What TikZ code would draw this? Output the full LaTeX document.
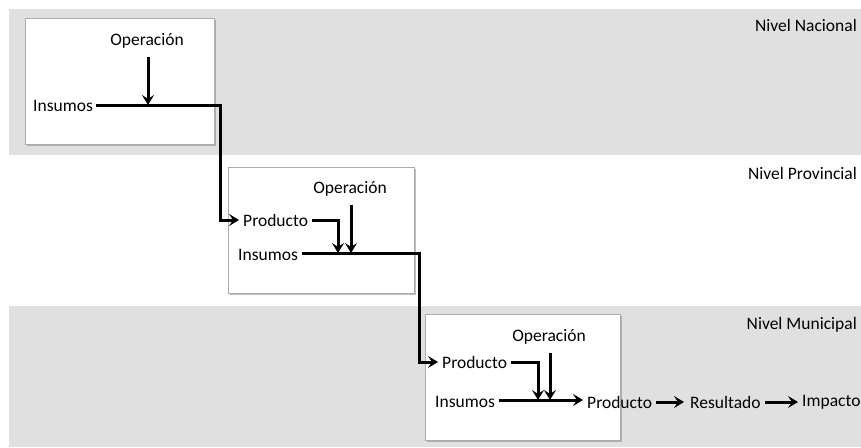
\documentclass[tikz,border=0pt]{standalone}
\usepackage{fontspec}
\setmainfont{Carlito}
\usetikzlibrary{arrows.meta, shadows}

\definecolor{bandgray}{HTML}{E0E0E0}

\begin{document}
\begin{tikzpicture}[x=1pt, y=-1pt, font=\fontsize{17.5}{20}\selectfont,
    flow/.style={line width=3pt},
    tip/.style={-{Stealth[length=10pt,width=12pt,inset=4pt]}},
    panel/.style={draw=gray!65, line width=0.8pt, fill=white,
      drop shadow={shadow xshift=2pt, shadow yshift=-2pt, opacity=0.5, fill=gray}},
    lbl/.style={inner sep=0pt, anchor=west},
    level/.style={inner sep=0pt, anchor=east}]
  \useasboundingbox (0,0) rectangle (861,447);
  % bands
  \fill [bandgray] (9,9) rectangle (861,155);
  \fill [bandgray] (9,306) rectangle (861,447);
  \node [level] (lvN) at (857,25) {Nivel Nacional};
  \node [level] (lvP) at (857,173) {Nivel Provincial};
  \node [level] (lvM) at (857,325) {Nivel Municipal};
  % panels
  \draw [panel] (25,18) rectangle (214,144);
  \draw [panel] (228,167) rectangle (414,293);
  \draw [panel] (425,314) rectangle (620,440);
  % nacional
  \node (op1) at (147,41) {Operación};
  \node [lbl] (in1) at (33,106) {Insumos};
  \coordinate (j1) at (148,105);
  \coordinate (bend1) at (220,160);
  % provincial
  \node [lbl] (pr2) at (243,220) {Producto};
  \node (op2) at (350,189) {Operación};
  \node [lbl] (in2) at (238,255) {Insumos};
  \coordinate (j2a) at (338,253);
  \coordinate (j2b) at (351,253);
  \coordinate (bend2) at (419,300);
  % municipal
  \node [lbl] (pr3) at (442,362) {Producto};
  \node (op3) at (549,337) {Operación};
  \node [lbl] (in3) at (435,402) {Insumos};
  \node [lbl] (out3) at (587,402) {Producto};
  \node [lbl] (res) at (690,402) {Resultado};
  \node [lbl] (imp) at (802,402) {Impacto};
  \coordinate (j3a) at (538,400);
  \coordinate (j3b) at (550,400);
  % connectors
  \draw [flow, tip] ([yshift=-5pt]op1.south -| j1) -- (j1);
  \draw [flow, tip] ([xshift=3pt]in1.east |- j1) -| (bend1) |- ([xshift=-4pt]pr2.west);
  \draw [flow, tip] ([xshift=4pt]pr2.east) -| (j2a);
  \draw [flow, tip] ([yshift=-5pt]op2.south -| j2b) -- (j2b);
  \draw [flow, tip] ([xshift=4pt]in2.east |- j2b) -| (bend2) |- ([xshift=-4pt]pr3.west);
  \draw [flow, tip] ([xshift=4pt]pr3.east) -| (j3a);
  \draw [flow, tip] ([yshift=-5pt]op3.south -| j3b) -- (j3b);
  \draw [flow, tip] ([xshift=4pt]in3.east |- j3b) -- ([xshift=-4pt]out3.west |- j3b);
  \draw [flow, tip] ([xshift=4pt]out3.east) -- ([xshift=-6pt]res.west);
  \draw [flow, tip] ([xshift=4pt]res.east) -- ([xshift=-4pt]imp.west);
\end{tikzpicture}
\end{document}
